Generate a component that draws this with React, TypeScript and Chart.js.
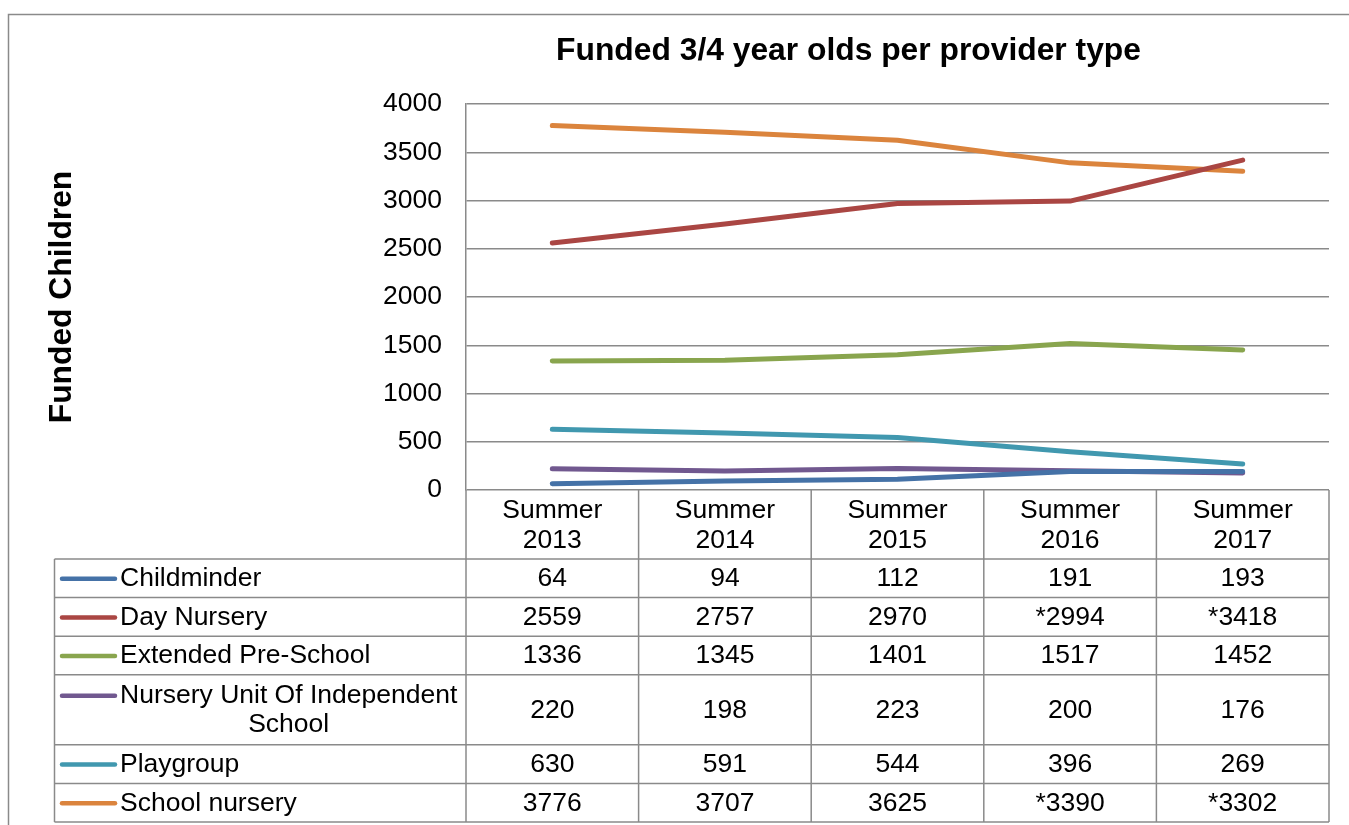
import React, { useEffect, useRef } from "react";
import { Chart, registerables } from "chart.js";

Chart.register(...registerables);

const FONT = "'Liberation Sans', Arial, Helvetica, sans-serif";
Chart.defaults.font.family = FONT;

const chartTitle = "Funded 3/4 year olds per provider type";
const yAxisTitle = "Funded Children";
const categories = [
  ["Summer", "2013"],
  ["Summer", "2014"],
  ["Summer", "2015"],
  ["Summer", "2016"],
  ["Summer", "2017"],
];
const yTicksMin = 0;
const yTicksMax = 4000;
const yTicksStep = 500;

const seriesNames = [
  ["Childminder"],
  ["Day Nursery"],
  ["Extended Pre-School"],
  ["Nursery Unit Of Independent", "School"],
  ["Playgroup"],
  ["School nursery"],
];
const seriesColors = ["#4572A7", "#AA4643", "#89A54E", "#71588F", "#4198AF", "#DB843D"];

const childminder = [64, 94, 112, 191, 193];
const dayNursery = [2559, 2757, 2970, 2994, 3418];
const extendedPreSchool = [1336, 1345, 1401, 1517, 1452];
const nurseryUnit = [220, 198, 223, 200, 176];
const playgroup = [630, 591, 544, 396, 269];
const schoolNursery = [3776, 3707, 3625, 3390, 3302];

// asterisk markers shown in the data table
const childminderStar = [false, false, false, false, false];
const dayNurseryStar = [false, false, false, true, true];
const extendedStar = [false, false, false, false, false];
const nurseryUnitStar = [false, false, false, false, false];
const playgroupStar = [false, false, false, false, false];
const schoolNurseryStar = [false, false, false, true, true];

const seriesValues = [childminder, dayNursery, extendedPreSchool, nurseryUnit, playgroup, schoolNursery];
const seriesStars = [childminderStar, dayNurseryStar, extendedStar, nurseryUnitStar, playgroupStar, schoolNurseryStar];

const LINE_GREY = "#8a8a8a";
const TEXT_SIZE = 26.5;
const TITLE_SIZE = 31.8;

const framePlugin = {
  id: "frameAndTitle",
  afterDraw(chart: any) {
    const { ctx } = chart;
    ctx.save();
    ctx.strokeStyle = LINE_GREY;
    ctx.lineWidth = 1.5;
    ctx.beginPath();
    ctx.moveTo(8.5, 830);
    ctx.lineTo(8.5, 14.5);
    ctx.lineTo(1352, 14.5);
    ctx.stroke();
    ctx.fillStyle = "#000";
    ctx.font = `bold ${TITLE_SIZE}px ${FONT}`;
    ctx.textAlign = "center";
    ctx.textBaseline = "middle";
    ctx.fillText(chartTitle, 848.5, 51);
    ctx.restore();
  },
};

const tablePlugin = {
  id: "dataTable",
  afterDraw(chart: any) {
    const { ctx, chartArea } = chart;
    const xs = chart.scales.x;
    const n = categories.length;
    const left = chartArea.left;
    const right = chartArea.right;
    const top = chartArea.bottom;
    const headerBottom = top + 69;
    const tableBottom = 822;
    const labelLeft = 54.5;
    const doubleH = 70;
    const singleH = (tableBottom - headerBottom - doubleH) / (seriesNames.length - 1);

    const bounds: number[] = [left];
    for (let i = 0; i < n - 1; i++) {
      bounds.push((xs.getPixelForValue(i) + xs.getPixelForValue(i + 1)) / 2);
    }
    bounds.push(right);

    ctx.save();
    ctx.strokeStyle = LINE_GREY;
    ctx.lineWidth = 1.5;
    ctx.beginPath();
    bounds.forEach((b) => {
      ctx.moveTo(b, top);
      ctx.lineTo(b, tableBottom);
    });
    ctx.moveTo(labelLeft, headerBottom);
    ctx.lineTo(labelLeft, tableBottom);
    let y = headerBottom;
    ctx.moveTo(labelLeft, y);
    ctx.lineTo(right, y);
    const rowTops: number[] = [];
    const rowHs: number[] = [];
    seriesNames.forEach((name) => {
      const h = name.length > 1 ? doubleH : singleH;
      rowTops.push(y);
      rowHs.push(h);
      y += h;
      ctx.moveTo(labelLeft, y);
      ctx.lineTo(right, y);
    });
    ctx.stroke();

    ctx.font = `${TEXT_SIZE}px ${FONT}`;
    ctx.textBaseline = "middle";
    ctx.fillStyle = "#000";
    seriesNames.forEach((name, r) => {
      const cy = rowTops[r] + rowHs[r] / 2 + 0.5;
      const lineH = 29;
      const firstY = cy - ((name.length - 1) * lineH) / 2;
      // legend key
      ctx.strokeStyle = seriesColors[r];
      ctx.lineWidth = 4.5;
      ctx.lineCap = "round";
      ctx.beginPath();
      ctx.moveTo(62, firstY);
      ctx.lineTo(115, firstY);
      ctx.stroke();
      // label
      const widths = name.map((t) => ctx.measureText(t).width);
      const maxW = Math.max(...widths);
      const cx = 120 + maxW / 2;
      ctx.textAlign = "center";
      name.forEach((t, k) => ctx.fillText(t, cx, firstY + k * lineH));
      // values
      seriesValues[r].forEach((v, i) => {
        const txt = (seriesStars[r][i] ? "*" : "") + String(v);
        ctx.fillText(txt, xs.getPixelForValue(i), cy);
      });
    });
    ctx.restore();
  },
};

export default function App() {
  const ref = useRef<HTMLCanvasElement | null>(null);
  useEffect(() => {
    if (!ref.current) return;
    const chart = new Chart(ref.current, {
      type: "line",
      data: {
        labels: categories,
        datasets: seriesNames.map((name, i) => ({
          label: name.join(" "),
          data: seriesValues[i],
          borderColor: seriesColors[i],
          backgroundColor: seriesColors[i],
          borderWidth: 5,
          pointRadius: 0,
          pointHoverRadius: 0,
          tension: 0,
          borderCapStyle: "round",
          borderJoinStyle: "round",
          fill: false,
        })),
      },
      options: {
        responsive: false,
        animation: false,
        layout: { padding: { left: 43, top: 104, right: 20, bottom: 3 } },
        plugins: {
          legend: { display: false },
          tooltip: { enabled: false },
          title: { display: false },
        },
        scales: {
          x: {
            type: "category",
            offset: true,
            grid: { display: false, drawTicks: false },
            border: { display: false },
            ticks: {
              color: "#000",
              padding: 6,
              maxRotation: 0,
              autoSkip: false,
              font: { size: TEXT_SIZE, lineHeight: 1.13 },
            },
            afterFit: (scale: any) => {
              scale.height = 332;
            },
          },
          y: {
            min: yTicksMin,
            max: yTicksMax,
            grid: { color: LINE_GREY, lineWidth: 1.5, drawTicks: false },
            border: { display: true, color: LINE_GREY, width: 1.5 },
            ticks: {
              stepSize: yTicksStep,
              color: "#000",
              padding: 24,
              font: { size: TEXT_SIZE },
              callback: (value: any) => String(value),
            },
            title: {
              display: true,
              text: yAxisTitle,
              color: "#000",
              padding: 0,
              font: { size: TITLE_SIZE, weight: "bold", lineHeight: 1.2 },
            },
            afterFit: (scale: any) => {
              scale.width = 423;
            },
          },
        },
      },
      plugins: [framePlugin, tablePlugin],
    } as any);
    return () => chart.destroy();
  }, []);
  return (
    <div style={{ position: "absolute", left: 0, top: 0, width: 1349, height: 825, overflow: "hidden", background: "#fff" }}>
      <canvas ref={ref} width={1349} height={825} style={{ display: "block" }} />
    </div>
  );
}
